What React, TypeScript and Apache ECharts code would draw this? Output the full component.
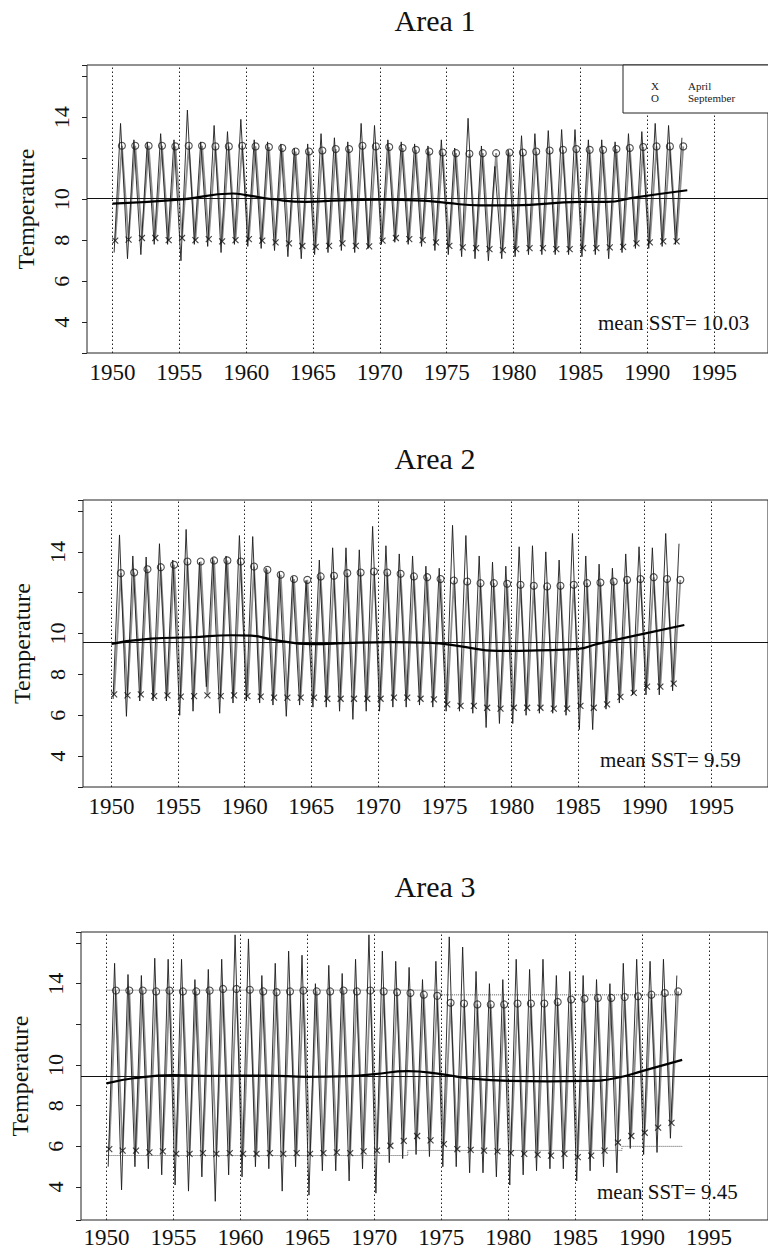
import React, { useEffect, useRef } from "react";
import * as echarts from "echarts";

// ---------- data ----------
const YEARS = [1950, 1951, 1952, 1953, 1954, 1955, 1956, 1957, 1958, 1959, 1960, 1961, 1962, 1963, 1964, 1965, 1966, 1967, 1968, 1969, 1970, 1971, 1972, 1973, 1974, 1975, 1976, 1977, 1978, 1979, 1980, 1981, 1982, 1983, 1984, 1985, 1986, 1987, 1988, 1989, 1990, 1991, 1992];
const X_TICK_YEARS = [1950, 1955, 1960, 1965, 1970, 1975, 1980, 1985, 1990, 1995];
const Y_LABELS = [4, 6, 8, 10, 14];
const TITLES = ["Area 1", "Area 2", "Area 3"];
const MEAN_SST = [10.03, 9.59, 9.45];

// Area 1
const APRIL_A1 = [7.98, 8.03, 8.11, 8.11, 8.01, 8.11, 8.01, 8.06, 7.95, 8.01, 8.06, 7.98, 7.90, 7.85, 7.72, 7.68, 7.73, 7.85, 7.73, 7.70, 7.98, 8.11, 8.06, 8.01, 7.90, 7.73, 7.65, 7.62, 7.57, 7.52, 7.57, 7.62, 7.62, 7.57, 7.57, 7.62, 7.62, 7.65, 7.68, 7.85, 7.90, 7.95, 7.95];
const SEPT_A1 = [12.61, 12.61, 12.61, 12.61, 12.58, 12.61, 12.61, 12.58, 12.58, 12.61, 12.58, 12.55, 12.50, 12.33, 12.33, 12.38, 12.45, 12.45, 12.61, 12.58, 12.55, 12.50, 12.41, 12.33, 12.28, 12.25, 12.22, 12.25, 12.25, 12.28, 12.28, 12.33, 12.38, 12.41, 12.45, 12.41, 12.41, 12.45, 12.50, 12.55, 12.58, 12.58, 12.58];
const PEAK_A1 = [13.7, 12.9, 12.8, 13.2, 12.9, 14.35, 12.8, 13.6, 13.3, 13.9, 12.9, 12.8, 12.7, 12.5, 12.7, 13.2, 13.0, 12.8, 13.7, 13.6, 12.9, 12.8, 12.7, 12.6, 12.9, 12.5, 13.95, 12.6, 11.6, 12.4, 13.1, 13.2, 13.35, 13.4, 13.4, 12.9, 12.9, 12.8, 13.2, 13.3, 13.7, 13.6, 13.0];
const TROUGH_A1 = [7.4, 7.1, 7.3, 7.8, 7.8, 7.0, 7.8, 7.7, 7.4, 7.8, 7.7, 7.6, 7.5, 7.2, 7.1, 7.3, 7.4, 7.5, 7.4, 7.6, 7.8, 7.9, 7.8, 7.7, 7.5, 7.3, 7.2, 7.1, 7.0, 7.1, 7.2, 7.3, 7.3, 7.3, 7.3, 7.2, 7.3, 7.1, 7.4, 7.6, 7.6, 7.7, 7.8];
const TREND_YEARS_A1 = [1950, 1955, 1959, 1960, 1962, 1964.5, 1967, 1970, 1973.5, 1975, 1977.5, 1980, 1985, 1987, 1989, 1993];
const TREND_A1 = [9.79, 9.98, 10.28, 10.2, 10.0, 9.87, 9.95, 9.98, 9.92, 9.82, 9.70, 9.70, 9.87, 9.87, 10.08, 10.44];

// Area 2
const APRIL_A2 = [7.02, 6.98, 7.02, 6.94, 6.98, 6.91, 6.94, 6.98, 6.94, 6.98, 6.94, 6.91, 6.86, 6.86, 6.86, 6.86, 6.81, 6.81, 6.81, 6.81, 6.81, 6.86, 6.86, 6.81, 6.78, 6.54, 6.46, 6.46, 6.37, 6.33, 6.37, 6.37, 6.37, 6.33, 6.33, 6.46, 6.37, 6.54, 6.90, 7.10, 7.40, 7.40, 7.55];
const SEPT_A2 = [12.96, 12.99, 13.15, 13.25, 13.37, 13.53, 13.53, 13.58, 13.58, 13.53, 13.28, 13.12, 12.88, 12.67, 12.63, 12.80, 12.83, 12.96, 12.99, 13.04, 12.99, 12.93, 12.80, 12.76, 12.67, 12.60, 12.55, 12.47, 12.47, 12.44, 12.39, 12.34, 12.31, 12.34, 12.39, 12.47, 12.50, 12.55, 12.63, 12.67, 12.76, 12.67, 12.63];
const PEAK_A2 = [14.83, 13.8, 13.75, 14.4, 13.6, 15.1, 13.5, 13.7, 13.8, 14.8, 14.75, 13.2, 13.0, 12.8, 12.6, 13.6, 14.2, 14.2, 14.1, 15.25, 14.3, 13.9, 13.8, 13.3, 13.2, 15.3, 14.8, 13.8, 13.5, 13.3, 14.25, 14.3, 14.0, 13.6, 14.9, 13.8, 13.4, 13.2, 13.9, 14.25, 14.2, 14.9, 14.4];
const TROUGH_A2 = [6.8, 5.95, 6.7, 6.7, 6.7, 6.0, 6.2, 7.4, 6.1, 6.6, 6.7, 6.6, 6.5, 5.95, 6.5, 6.4, 6.4, 6.2, 5.8, 6.2, 6.2, 6.4, 6.4, 6.5, 6.4, 6.2, 6.2, 6.1, 5.4, 5.6, 5.6, 6.0, 6.1, 6.1, 6.0, 5.3, 5.3, 6.3, 6.6, 7.0, 7.0, 7.0, 7.2];
const TREND_YEARS_A2 = [1950, 1953, 1956, 1959, 1960.5, 1962, 1965, 1968, 1971, 1974, 1976, 1979, 1982, 1985, 1986.5, 1990, 1993];
const TREND_A2 = [9.5, 9.75, 9.82, 9.92, 9.9, 9.72, 9.48, 9.55, 9.58, 9.55, 9.4, 9.15, 9.18, 9.25, 9.5, 10.0, 10.42];

// Area 3
const APRIL_A3 = [5.87, 5.79, 5.79, 5.71, 5.75, 5.63, 5.63, 5.67, 5.63, 5.67, 5.63, 5.63, 5.67, 5.63, 5.67, 5.63, 5.67, 5.71, 5.67, 5.75, 5.79, 6.03, 6.27, 6.51, 6.30, 6.11, 5.87, 5.83, 5.79, 5.75, 5.67, 5.63, 5.59, 5.55, 5.63, 5.47, 5.55, 5.79, 6.19, 6.51, 6.67, 6.92, 7.16];
const SEPT_A3 = [13.66, 13.66, 13.66, 13.62, 13.66, 13.62, 13.62, 13.66, 13.74, 13.74, 13.70, 13.62, 13.58, 13.62, 13.66, 13.62, 13.62, 13.66, 13.62, 13.66, 13.62, 13.58, 13.54, 13.46, 13.40, 13.06, 13.02, 12.98, 12.98, 12.98, 13.02, 13.02, 13.02, 13.10, 13.22, 13.26, 13.30, 13.30, 13.34, 13.38, 13.46, 13.54, 13.62];
const PEAK_A3 = [15.0, 14.45, 14.4, 15.25, 15.2, 15.2, 14.2, 14.7, 15.2, 16.4, 16.2, 14.4, 15.0, 15.6, 15.4, 14.0, 14.9, 14.5, 15.2, 16.4, 15.6, 15.1, 14.8, 14.2, 15.1, 16.3, 15.8, 14.6, 14.0, 14.2, 15.2, 14.7, 15.2, 14.4, 14.6, 14.4, 14.2, 14.0, 15.0, 15.2, 15.1, 15.2, 14.4];
const TROUGH_A3 = [5.0, 3.86, 5.0, 4.9, 4.6, 4.1, 3.8, 4.5, 3.3, 4.6, 4.5, 5.0, 4.9, 3.8, 5.0, 3.6, 4.8, 4.8, 4.3, 4.9, 3.7, 5.2, 5.4, 5.6, 5.5, 5.0, 5.0, 4.7, 4.7, 4.5, 4.1, 4.6, 4.8, 4.9, 4.9, 4.3, 4.8, 5.0, 4.7, 5.9, 5.6, 5.7, 6.4];
const TREND_YEARS_A3 = [1950, 1952, 1955, 1958, 1962, 1965, 1968, 1970, 1972.5, 1975, 1977, 1980, 1983, 1986, 1988, 1990, 1993];
const TREND_A3 = [9.1, 9.35, 9.5, 9.47, 9.48, 9.42, 9.45, 9.55, 9.7, 9.55, 9.35, 9.22, 9.2, 9.22, 9.35, 9.7, 10.25];
// Area 3 dotted reference levels (step)
const UPPER_STEP_YEARS_A3 = [1950, 1975, 1975, 1993];
const UPPER_STEP_A3 = [13.68, 13.68, 13.45, 13.45];
const LOWER_STEP_YEARS_A3 = [1950, 1972.5, 1972.5, 1988.5, 1988.5, 1993];
const LOWER_STEP_A3 = [5.55, 5.55, 5.8, 5.8, 6.0, 6.0];

const PANELS = [
  { april: APRIL_A1, sept: SEPT_A1, peak: PEAK_A1, trough: TROUGH_A1, trendYears: TREND_YEARS_A1, trend: TREND_A1 },
  { april: APRIL_A2, sept: SEPT_A2, peak: PEAK_A2, trough: TROUGH_A2, trendYears: TREND_YEARS_A2, trend: TREND_A2 },
  { april: APRIL_A3, sept: SEPT_A3, peak: PEAK_A3, trough: TROUGH_A3, trendYears: TREND_YEARS_A3, trend: TREND_A3 },
];

// ---------- layout ----------
const GRIDS = [
  { left: 87, top: 65, width: 693, height: 288, xmin: 1948.09, xmax: 1999.04, ymin: 2.5, ymax: 16.55, titleTop: 0, meanX: 598, meanY: 323, labelMargin: 8 },
  { left: 83, top: 500, width: 697, height: 287, xmin: 1947.86, xmax: 1999.28, ymin: 2.49, ymax: 16.54, titleTop: 438, meanX: 600, meanY: 760, labelMargin: 8 },
  { left: 81, top: 932, width: 699, height: 288, xmin: 1948.09, xmax: 1999.41, ymin: 2.38, ymax: 16.54, titleTop: 866, meanX: 597, meanY: 1192, labelMargin: 6 },
];

const FONT = "Liberation Serif";
const X_SYMBOL = "path://M0,0L10,10M10,0L0,10";

function buildOption(labelY: number[][] | null) {
  const grid: any[] = [];
  const xAxis: any[] = [];
  const yAxis: any[] = [];
  const series: any[] = [];
  const title: any[] = [];
  const graphic: any[] = [];

  GRIDS.forEach((g, i) => {
    const p = PANELS[i];
    grid.push({
      left: g.left, top: g.top, width: g.width, height: g.height,
      show: true, borderColor: "#222", borderWidth: 1, backgroundColor: "transparent",
    });
    xAxis.push({
      type: "value", gridIndex: i, min: g.xmin, max: g.xmax,
      axisLine: { show: false }, axisTick: { show: false }, splitLine: { show: false },
      axisLabel: {
        customValues: X_TICK_YEARS, margin: g.labelMargin,
        formatter: (v: number) => String(Math.round(v)),
        fontFamily: FONT, fontSize: 23, color: "#111",
      },
    });
    yAxis.push({
      type: "value", gridIndex: i, min: g.ymin, max: g.ymax, splitNumber: 7,
      name: "Temperature", nameLocation: "middle", nameGap: 49, nameRotate: 90,
      nameTextStyle: { fontFamily: FONT, fontSize: 24, color: "#111" },
      axisLine: { show: false }, splitLine: { show: false },
      axisTick: { show: true, length: 5, lineStyle: { color: "#222" } },
      axisLabel: { show: false },
    });
    title.push({
      text: TITLES[i], left: 430, top: g.titleTop, textAlign: "center",
      textStyle: { fontFamily: FONT, fontSize: 30, fontWeight: "normal", color: "#111" },
    });
    graphic.push({
      type: "text", x: g.meanX, y: g.meanY, z: 30,
      style: { text: "mean SST= " + MEAN_SST[i].toFixed(2), font: `21px ${FONT}`, fill: "#111", verticalAlign: "middle" },
    });

    const seasonal: number[][] = [];
    const monthly: number[][] = [];
    YEARS.forEach((y, k) => {
      seasonal.push([y + 0.2, p.april[k]]);
      seasonal.push([y + 0.7, p.sept[k]]);
      monthly.push([y + 0.12, p.trough[k]]);
      monthly.push([y + 0.6, p.peak[k]]);
    });

    series.push({
      type: "line", name: "seasonal", xAxisIndex: i, yAxisIndex: i, data: seasonal,
      showSymbol: false, silent: true, z: 2,
      lineStyle: { color: "#8f8f8f", width: 1.8 },
    });
    series.push({
      type: "line", name: "monthly", xAxisIndex: i, yAxisIndex: i, data: monthly,
      showSymbol: false, silent: true, z: 3,
      lineStyle: { color: "#1c1c1c", width: 0.9 },
    });
    if (i === 2) {
      series.push({
        type: "line", name: "upper level", xAxisIndex: i, yAxisIndex: i,
        data: UPPER_STEP_YEARS_A3.map((y, k) => [y, UPPER_STEP_A3[k]]),
        showSymbol: false, silent: true, z: 3,
        lineStyle: { color: "#555", width: 1, type: "dotted" },
      });
      series.push({
        type: "line", name: "lower level", xAxisIndex: i, yAxisIndex: i,
        data: LOWER_STEP_YEARS_A3.map((y, k) => [y, LOWER_STEP_A3[k]]),
        showSymbol: false, silent: true, z: 3,
        lineStyle: { color: "#555", width: 1, type: "dotted" },
      });
    }
    series.push({
      type: "scatter", name: "April", xAxisIndex: i, yAxisIndex: i,
      data: YEARS.map((y, k) => [y + 0.2, p.april[k]]),
      symbol: X_SYMBOL, symbolSize: 6, silent: true, z: 4,
      itemStyle: { color: "transparent", borderColor: "#111", borderWidth: 1.1 },
    });
    series.push({
      type: "scatter", name: "September", xAxisIndex: i, yAxisIndex: i,
      data: YEARS.map((y, k) => [y + 0.7, p.sept[k]]),
      symbol: "circle", symbolSize: 7, silent: true, z: 4,
      itemStyle: { color: "transparent", borderColor: "#222", borderWidth: 1.1 },
    });
    series.push({
      type: "line", name: "trend", xAxisIndex: i, yAxisIndex: i,
      data: p.trendYears.map((y, k) => [y, p.trend[k]]),
      smooth: true, showSymbol: false, silent: true, z: 5,
      lineStyle: { color: "#000", width: 2.2 },
      markLine: {
        silent: true, symbol: ["none", "none"], label: { show: false },
        data: [
          { yAxis: MEAN_SST[i], lineStyle: { color: "#111", width: 1, type: "solid" } },
          ...X_TICK_YEARS.map((yr) => ({ xAxis: yr, lineStyle: { color: "#222", width: 1, type: [1.5, 2.5] } })),
        ],
      },
    });
  });

  // Rotated y tick labels: each drawn as the (rotated) name of a tiny helper axis
  // centred on the tick position taken from the panel's own y scale.
  if (labelY) {
    GRIDS.forEach((g, i) => {
      Y_LABELS.forEach((v, k) => {
        const gi = grid.length;
        grid.push({ left: g.left, top: labelY[i][k] - 10, width: 10, height: 20, show: false });
        xAxis.push({ type: "value", gridIndex: gi, min: 0, max: 1, show: false });
        yAxis.push({
          type: "value", gridIndex: gi, min: 0, max: 1,
          name: String(v), nameLocation: "middle", nameGap: 15, nameRotate: 90,
          nameTextStyle: { fontFamily: FONT, fontSize: 22, color: "#111" },
          axisLine: { show: false }, axisTick: { show: false }, axisLabel: { show: false }, splitLine: { show: false },
        });
      });
    });
  }

  // legend box (panel 1)
  graphic.push({
    type: "rect", z: 20,
    shape: { x: 623, y: 65, width: 170, height: 48 },
    style: { fill: "#fff", stroke: "#222", lineWidth: 1 },
  });

  return {
    animation: false,
    backgroundColor: "#fff",
    title,
    grid,
    xAxis,
    yAxis,
    series,
    graphic,
    legend: {
      data: ["April", "September"],
      orient: "vertical", left: 641, top: 75, itemGap: 1,
      icon: "none", itemWidth: 0, itemHeight: 10, selectedMode: false, z: 40,
      formatter: (name: string) => (name === "April" ? "{m|X}{t|April}" : "{m|O}{t|September}"),
      textStyle: {
        fontFamily: FONT, fontSize: 11, color: "#222",
        rich: {
          m: { width: 37, fontSize: 11, fontFamily: FONT, color: "#222" },
          t: { fontSize: 11, fontFamily: FONT, color: "#222" },
        },
      },
    },
  };
}

export default function App() {
  const ref = useRef<HTMLDivElement>(null);
  useEffect(() => {
    document.body.style.margin = "0";
    if (!ref.current) return;
    const chart = echarts.init(ref.current, undefined, { renderer: "svg" });
    chart.setOption(buildOption(null) as any);
    // y positions of the tick labels, taken from the chart's own y scales
    const labelY = GRIDS.map((_, i) =>
      Y_LABELS.map((v) => chart.convertToPixel({ yAxisIndex: i } as any, v) as unknown as number)
    );
    chart.setOption(buildOption(labelY) as any, { notMerge: true });
    return () => chart.dispose();
  }, []);
  return <div ref={ref} style={{ width: 768, height: 1252 }} />;
}
